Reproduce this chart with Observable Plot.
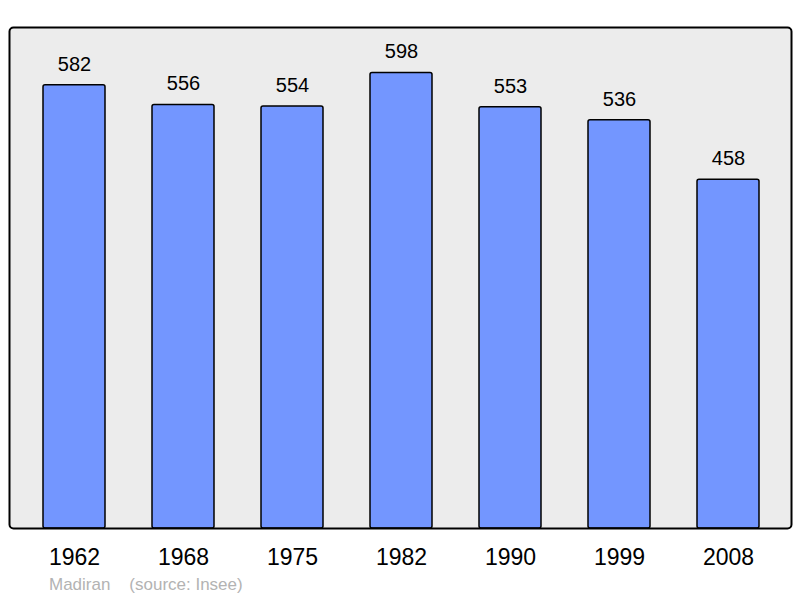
<!DOCTYPE html>
<html>
<head>
<meta charset="utf-8">
<script src="https://cdn.jsdelivr.net/npm/d3@7"></script>
<script src="https://cdn.jsdelivr.net/npm/@observablehq/plot@0.6"></script>
<style>
  html, body { margin: 0; padding: 0; background: #fff; }
  body { width: 800px; height: 598px; overflow: hidden; font-family: "Liberation Sans", Arial, sans-serif; }
  #caption { position: absolute; left: 49px; top: 575px; font-size: 17px; color: #b3b3b3; white-space: pre; line-height: 20px; }
</style>
</head>
<body>
<div id="chart"></div>
<div id="caption">Madiran    (source: Insee)</div>
<script>
const years = ["1962", "1968", "1975", "1982", "1990", "1999", "2008"];
const population = [582, 556, 554, 598, 553, 536, 458];

const data = years.map((y, i) => ({year: y, pop: population[i]}));

const chart = Plot.plot({
  width: 800,
  height: 570,
  marginLeft: 9,
  marginRight: 9,
  marginTop: 27,
  marginBottom: 42,
  style: {fontFamily: "Liberation Sans, Arial, sans-serif", background: "white", color: "black"},
  x: {
    domain: years,
    range: [18.05, 784.55],
    paddingInner: 0.434,
    paddingOuter: 0.217,
    label: null
  },
  y: {domain: [0, d3.max(population) * 1.1], axis: null},
  marks: [
    Plot.frame({fill: "#ececec", stroke: null, rx: 4}),
    Plot.barY(data, {x: "year", y: "pop", fill: "#7396ff", stroke: "black", strokeWidth: 1.5, rx: 2}),
    Plot.text(data, {x: "year", y: "pop", text: d => String(d.pop), dy: -21, fontSize: 20, fill: "black"}),
    Plot.frame({stroke: "black", strokeWidth: 2, rx: 4}),
    Plot.axisX({tickSize: 0, tickPadding: 20, fontSize: 23, label: null, fill: "black"})
  ]
});
document.getElementById("chart").appendChild(chart);
</script>
</body>
</html>
